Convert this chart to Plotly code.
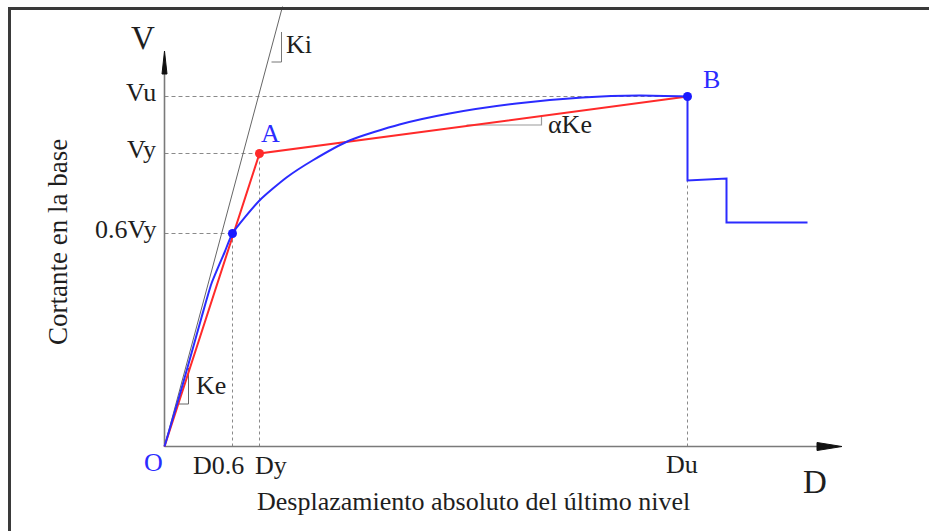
import plotly.graph_objects as go

# ---- data (arbitrary units: D = displacement, V = base shear) ----
D_labels = ["D0.6", "Dy", "Du"]
D_vals = [0.68, 0.95, 5.23]
V_labels = ["Vu", "Vy", "0.6Vy"]
V_vals = [3.50, 2.93, 2.13]

pushover_D = [0.0, 0.13, 0.23, 0.37, 0.47, 0.60, 0.68, 0.95, 1.22, 1.48, 1.85,
              2.35, 2.85, 3.52, 4.18, 4.75, 5.23]
pushover_V = [0.0, 0.44, 0.79, 1.29, 1.63, 1.94, 2.13, 2.46, 2.69, 2.86, 3.06,
              3.22, 3.33, 3.43, 3.49, 3.51, 3.50]
drop_D = [5.23, 5.23, 5.62, 5.62, 6.43]
drop_V = [3.50, 2.66, 2.68, 2.24, 2.24]

Dy, Du, D06 = D_vals[1], D_vals[2], D_vals[0]
Vu, Vy, V06 = V_vals[0], V_vals[1], V_vals[2]
bilinear_D = [0.0, Dy, Du]
bilinear_V = [0.0, Vy, Vu]

ki_D = [0.0, 1.18]
ki_V = [0.0, 4.40]

axis_x_end = 6.775
axis_y_end = 3.955

FONT = "Liberation Serif, Times New Roman, serif"
TXT = "#1e1e1e"
BLUE = "#2b2bff"
RED = "#ff2a2a"
GRAY = "#8a8a8a"

fig = go.Figure()

def line(xs, ys, color, width=1.0, dash="solid"):
    fig.add_trace(go.Scatter(x=xs, y=ys, mode="lines", hoverinfo="skip",
                             line=dict(color=color, width=width, dash=dash),
                             showlegend=False))

# dashed guide lines
line([0, Du], [Vu, Vu], GRAY, 1, "4px,3px")
line([0, Dy], [Vy, Vy], GRAY, 1, "4px,3px")
line([0, D06], [V06, V06], GRAY, 1, "4px,3px")
line([D06, D06], [0, V06], GRAY, 1, "3px,3px")
line([Dy, Dy], [0, Vy], GRAY, 1, "3px,3px")
line([Du, Du], [0, drop_V[1]], GRAY, 1, "3px,3px")

# axes
line([0, axis_x_end - 0.2], [0, 0], "#7a7a7a", 1.6)
line([0, 0], [0, axis_y_end - 0.2], "#7a7a7a", 1.6)
fig.add_trace(go.Scatter(x=[axis_x_end - 0.25, axis_x_end, axis_x_end - 0.25, axis_x_end - 0.25],
                         y=[0.04, 0.0, -0.04, 0.04], mode="lines", fill="toself",
                         fillcolor="#111", line=dict(color="#111", width=1),
                         hoverinfo="skip", showlegend=False))
fig.add_trace(go.Scatter(x=[-0.025, 0.0, 0.025, -0.025],
                         y=[axis_y_end - 0.23, axis_y_end, axis_y_end - 0.23, axis_y_end - 0.23],
                         mode="lines", fill="toself",
                         fillcolor="#111", line=dict(color="#111", width=1),
                         hoverinfo="skip", showlegend=False))

# initial stiffness line Ki and slope triangles
line(ki_D, ki_V, "#666666", 1)
line([1.07, 1.17, 1.17], [3.845, 3.845, 4.145], "#777777", 1)
line([0.12, 0.24, 0.24], [0.425, 0.425, 0.785], "#666666", 1)
line([3.02, 3.77, 3.77], [3.215, 3.215, 3.315], "#9a9a9a", 1.2)

# curves
fig.add_trace(go.Scatter(x=bilinear_D, y=bilinear_V, mode="lines", hoverinfo="skip",
                         line=dict(color=RED, width=2), showlegend=False))
fig.add_trace(go.Scatter(x=pushover_D, y=pushover_V, mode="lines", hoverinfo="skip",
                         line=dict(color=BLUE, width=2, shape="spline", smoothing=0.6),
                         showlegend=False))
fig.add_trace(go.Scatter(x=drop_D, y=drop_V, mode="lines", hoverinfo="skip",
                         line=dict(color=BLUE, width=2), showlegend=False))

# key points
fig.add_trace(go.Scatter(x=[Dy], y=[Vy], mode="markers", hoverinfo="skip",
                         marker=dict(color=RED, size=9), showlegend=False))
fig.add_trace(go.Scatter(x=[D06, Du], y=[V06, Vu], mode="markers", hoverinfo="skip",
                         marker=dict(color="#1a1aff", size=9), showlegend=False))

ann = []
def text(x, y, s, size=26, color=TXT, xanchor="center", yanchor="middle", angle=0):
    ann.append(dict(x=x, y=y, text=s, showarrow=False, xanchor=xanchor, yanchor=yanchor,
                    textangle=angle, font=dict(family=FONT, size=size, color=color)))

# V-axis labels
for lab, v in zip(V_labels, V_vals):
    text(-0.07, v + 0.04, lab, xanchor="right")
# D-axis labels
text(D06 - 0.14, -0.19, D_labels[0])
text(Dy + 0.11, -0.19, D_labels[1])
text(Du - 0.06, -0.18, D_labels[2])

text(-0.22, 4.09, "V", size=33)
text(6.50, -0.35, "D", size=33)
text(-0.11, -0.16, "O", color=BLUE)
text(1.06, 3.13, "A", color=BLUE)
text(5.47, 3.67, "B", color=BLUE)
text(1.34, 4.02, "Ki")
text(0.46, 0.61, "Ke")
text(4.05, 3.22, "αKe")
text(3.09, -0.545, "Desplazamiento absoluto del último nivel", size=26)
text(-1.07, 2.04, "Cortante en la base", size=27, angle=-90)

fig.update_layout(
    width=929, height=531,
    margin=dict(l=0, r=0, t=0, b=0),
    paper_bgcolor="white", plot_bgcolor="white",
    xaxis=dict(range=[-1.645, 7.645], visible=False, fixedrange=True),
    yaxis=dict(range=[-0.845, 4.465], visible=False, fixedrange=True),
    annotations=ann,
    shapes=[
        dict(type="line", xref="paper", yref="paper", x0=8/929, x1=1, y0=1-8.5/531, y1=1-8.5/531,
             line=dict(color="#3a3a3a", width=3)),
        dict(type="line", xref="paper", yref="paper", x0=9.5/929, x1=9.5/929, y0=0, y1=1-7/531,
             line=dict(color="#3a3a3a", width=3)),
    ],
)

fig.write_html("out.html")
